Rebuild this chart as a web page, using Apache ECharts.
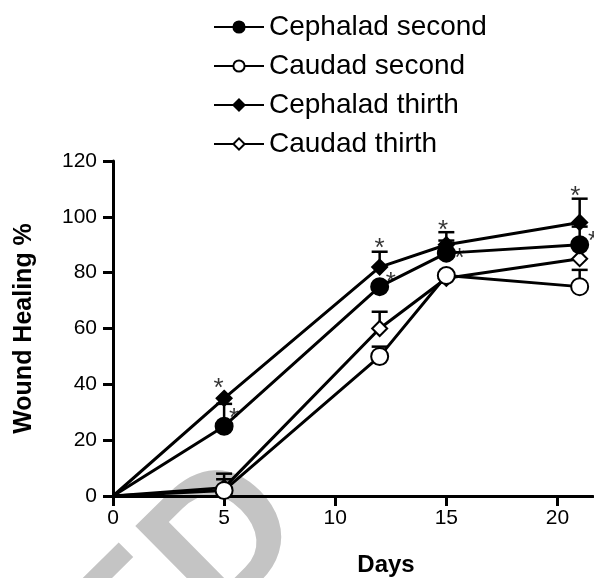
<!DOCTYPE html>
<html>
<head>
<meta charset="utf-8">
<script src="https://cdn.jsdelivr.net/npm/echarts@6/dist/echarts.min.js"></script>
<style>
  html, body { margin: 0; padding: 0; background: #fff; }
  #chart { width: 594px; height: 578px; }
</style>
</head>
<body>
<div id="chart"></div>
<script>
// data
var days = [0, 5, 12, 15, 21]
var seriesNames = ['Cephalad second', 'Caudad second', 'Cephalad thirth', 'Caudad thirth']

var cephaladSecond = [0, 25, 75, 87, 90]
var caudadSecond = [0, 2, 50, 79, 75]
var cephaladThirth = [0, 35, 82, 90, 98]
var caudadThirth = [0, 3, 60, 78, 85]

// upper end of error bars (null = no bar visible)
var cephaladSecondErr = [null, 33, null, 91.5, 96.5]
var caudadSecondErr = [null, 6, 53.5, null, 81]
var cephaladThirthErr = [null, null, 87.5, 94.5, 106.5]
var caudadThirthErr = [null, 8, 66, null, null]

// significance stars [x, y]
var starsThirth = [[4.75, 41], [12, 91], [14.85, 97.5], [20.8, 109.5]]
var starsSecond = [[5.45, 30], [12.5, 79], [15.6, 87.5], [21.6, 93.5]]

var xTicks = [0, 5, 10, 15, 20]

var chart = echarts.init(document.getElementById('chart'), null, { renderer: 'canvas' })

function lineData(vals) {
  return vals.map(function (v, i) {
    var item = { value: [days[i], v] }
    if (days[i] === 0) item.symbol = 'none'
    return item
  })
}

function errData(vals, errs) {
  var out = []
  errs.forEach(function (e, i) {
    if (e !== null) out.push([days[i], vals[i], e])
  })
  return out
}

function errSeries(vals, errs) {
  return {
    type: 'custom',
    z: 1,
    silent: true,
    data: errData(vals, errs),
    renderItem: function (params, api) {
      var p0 = api.coord([api.value(0), api.value(1)])
      var p1 = api.coord([api.value(0), api.value(2)])
      var style = { stroke: '#000', lineWidth: 2.5 }
      return {
        type: 'group',
        children: [
          { type: 'line', shape: { x1: p0[0], y1: p0[1], x2: p1[0], y2: p1[1] }, style: style },
          { type: 'line', shape: { x1: p1[0] - 8, y1: p1[1], x2: p1[0] + 8, y2: p1[1] }, style: style }
        ]
      }
    }
  }
}

function lineSeries(name, vals, symbol, fill, size, z) {
  return {
    name: name,
    type: 'line',
    z: z,
    data: lineData(vals),
    symbol: symbol,
    symbolSize: size,
    showAllSymbol: true,
    lineStyle: { color: '#000', width: 3 },
    itemStyle: { color: fill, borderColor: '#000', borderWidth: 2 },
    emphasis: { disabled: true },
    animation: false
  }
}

function starSeries(pts) {
  return {
    type: 'scatter',
    z: 6,
    silent: true,
    symbolSize: 1,
    itemStyle: { color: 'rgba(0,0,0,0)' },
    data: pts,
    label: {
      show: true,
      position: 'inside',
      formatter: '*',
      color: '#000',
      fontSize: 26,
      fontFamily: 'Liberation Sans, Arial',
      offset: [0, 7]
    }
  }
}

chart.setOption({
  animation: false,
  graphic: [{
    type: 'text',
    z: -10,
    x: 275,
    y: 495,
    rotation: 0.78,
    style: {
      text: 'ED',
      fill: '#c4c4c4',
      font: 'bold 185px "Liberation Sans", Arial',
      textAlign: 'right',
      textVerticalAlign: 'middle'
    }
  }],
  legend: {
    orient: 'vertical',
    left: 208,
    top: 8,
    itemWidth: 50,
    itemHeight: 14,
    itemGap: 11,
    data: seriesNames,
    textStyle: { fontSize: 28, color: '#000', fontFamily: 'Liberation Sans, Arial' }
  },
  grid: {
    left: 113,
    right: 1,
    top: 161,
    bottom: 82,
    outerBoundsMode: 'none'
  },
  xAxis: {
    type: 'value',
    min: 0,
    max: 21.6,
    interval: 5,
    name: 'Days',
    nameLocation: 'middle',
    nameGap: 57,
    nameTextStyle: {
      fontSize: 24,
      fontWeight: 'bold',
      color: '#000',
      fontFamily: 'Liberation Sans, Arial',
      padding: [0, 0, 0, 66]
    },
    axisLine: { lineStyle: { color: '#000', width: 3 } },
    axisTick: { length: 10, lineStyle: { color: '#000', width: 3 }, customValues: xTicks },
    axisLabel: { color: '#000', fontSize: 21, margin: 12, fontFamily: 'Liberation Sans, Arial', customValues: xTicks },
    splitLine: { show: false }
  },
  yAxis: {
    type: 'value',
    min: 0,
    max: 120,
    interval: 20,
    name: 'Wound Healing %',
    nameLocation: 'middle',
    nameGap: 76,
    nameTextStyle: {
      fontSize: 25,
      fontWeight: 'bold',
      color: '#000',
      fontFamily: 'Liberation Sans, Arial'
    },
    axisLine: { show: true, lineStyle: { color: '#000', width: 3 } },
    axisTick: { show: true, length: 10, lineStyle: { color: '#000', width: 3 } },
    axisLabel: { color: '#000', fontSize: 21, margin: 16, fontFamily: 'Liberation Sans, Arial' },
    splitLine: { show: false }
  },
  series: [
    errSeries(cephaladSecond, cephaladSecondErr),
    errSeries(caudadSecond, caudadSecondErr),
    errSeries(cephaladThirth, cephaladThirthErr),
    errSeries(caudadThirth, caudadThirthErr),
    lineSeries(seriesNames[0], cephaladSecond, 'circle', '#000', 17, 5),
    lineSeries(seriesNames[1], caudadSecond, 'circle', '#fff', 17, 5),
    lineSeries(seriesNames[2], cephaladThirth, 'diamond', '#000', 15, 3),
    lineSeries(seriesNames[3], caudadThirth, 'diamond', '#fff', 15, 3),
    starSeries(starsThirth),
    starSeries(starsSecond)
  ]
})
</script>
</body>
</html>
